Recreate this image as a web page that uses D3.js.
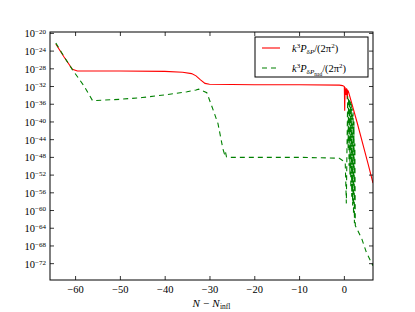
<!DOCTYPE html>
<html><head><meta charset="utf-8">
<script src="https://cdn.jsdelivr.net/npm/d3@7"></script>
<style>
body{margin:0;background:#fff;}
text{font-family:"Liberation Serif","DejaVu Serif",serif;}
</style></head>
<body><svg id="c" width="415" height="312"></svg>
<script>
// ---- data ----
const xTicks = [-60, -50, -40, -30, -20, -10, 0];
const yTickExps = [-20, -24, -28, -32, -36, -40, -44, -48, -52, -56, -60, -64, -68, -72];

// red: k^3 P_dP/(2pi^2)  (N - N_infl, log10 value)
const redN   = [-64.3, -62.5, -60.6, -59.5, -50, -40, -36, -34, -33, -32, -31, -30, -20, -10, -1, -0.3, 0.1, 0.18, 0.28, 0.45, 0.6, 0.75, 0.85, 1.0, 3.0, 5.4, 6.5];
const redLog = [-22.5, -25.4, -28.2, -28.6, -28.6, -28.7, -28.9, -29.2, -29.7, -30.6, -31.4, -31.6, -31.7, -31.7, -31.8, -31.9, -32.1, -37.6, -32.3, -34.0, -32.5, -35.0, -33.0, -33.2, -40.4, -49.6, -53.9];

// green: k^3 P_dPnad/(2pi^2)
const greenN   = [-64.3, -62.5, -60.6, -58.0, -56.1, -50, -45, -40, -35, -33, -32.4, -30.6, -29.5, -28.1, -27.0, -26.7, -26.5, -26.2, -26.0, -20, -10, -1, -0.3, 0.3, 0.55, 0.65, 0.85, 0.95, 1.05, 1.15, 1.25, 1.35, 1.45, 1.55, 1.65, 1.75, 1.85, 1.95, 2.05, 2.15, 2.25, 2.35, 2.45, 2.55, 4.0, 5.0, 6.5];
const greenLog = [-22.3, -25.3, -28.3, -32.0, -35.3, -35.0, -34.6, -34.0, -33.3, -32.9, -32.7, -33.5, -36.5, -40.5, -46.2, -47.2, -46.6, -48.0, -48.1, -48.1, -48.1, -48.3, -48.8, -49.2, -58.5, -49.5, -34.3, -46.0, -34.6, -50.0, -35.0, -52.0, -35.5, -55.0, -36.0, -57.0, -37.0, -59.0, -38.0, -61.0, -40.0, -63.0, -45.0, -63.5, -66.5, -69.5, -72.6];

// ---- layout ----
const m = {l: 50, r: 373, t: 32, b: 280};
const svg = d3.select("#c");

const x = d3.scaleLinear().domain([-65.6, 6.5]).range([m.l, m.r]);
const y = d3.scaleLog().domain([Math.pow(10, -75.8), Math.pow(10, -19.8)]).range([m.b, m.t]);

svg.append("clipPath").attr("id", "clip").append("rect")
  .attr("x", m.l).attr("y", m.t).attr("width", m.r - m.l).attr("height", m.b - m.t);

const line = d3.line().x(d => x(d[0])).y(d => y(Math.pow(10, d[1])));

const redData = redN.map((n, i) => [n, redLog[i]]);
const greenData = greenN.map((n, i) => [n, greenLog[i]]);

const plot = svg.append("g").attr("clip-path", "url(#clip)");
plot.append("path").datum(redData).attr("d", line)
  .attr("fill", "none").attr("stroke", "#ff0000").attr("stroke-width", 1.1);
plot.append("path").datum(greenData).attr("d", line)
  .attr("fill", "none").attr("stroke", "#008000").attr("stroke-width", 1.1)
  .attr("stroke-dasharray", "5,4");

// frame
svg.append("rect").attr("x", m.l).attr("y", m.t).attr("width", m.r - m.l).attr("height", m.b - m.t)
  .attr("fill", "none").attr("stroke", "#000").attr("stroke-width", 1);

const yTickVals = yTickExps.map(e => Math.pow(10, e));

// axes
const ax = svg.append("g").attr("transform", `translate(0,${m.b})`)
  .call(d3.axisBottom(x).tickValues(xTicks).tickSizeInner(-4).tickSizeOuter(0).tickPadding(6)
    .tickFormat(d => d < 0 ? "\u2212" + Math.abs(d) : "" + d));
const axTop = svg.append("g").attr("transform", `translate(0,${m.t})`)
  .call(d3.axisTop(x).tickValues(xTicks).tickSizeInner(-4).tickSizeOuter(0).tickFormat(""));
const ay = svg.append("g").attr("transform", `translate(${m.l},0)`)
  .call(d3.axisLeft(y).tickValues(yTickVals).tickSizeInner(-4).tickSizeOuter(0).tickPadding(4)
    .tickFormat(""));
const ayR = svg.append("g").attr("transform", `translate(${m.r},0)`)
  .call(d3.axisRight(y).tickValues(yTickVals).tickSizeInner(-4).tickSizeOuter(0).tickFormat(""));
[ax, axTop, ay, ayR].forEach(g => {
  g.select(".domain").remove();
  g.selectAll(".tick line").attr("stroke", "#000").attr("stroke-width", 0.8);
});
ax.selectAll(".tick text").attr("font-size", 10.5).attr("fill", "#000")
  .attr("font-family", "Liberation Serif");

// y labels: 10^exp
ay.selectAll(".tick").each(function(d) {
  const e = Math.round(Math.log10(d));
  const t = d3.select(this).append("text").attr("x", -4).attr("dy", "0.38em")
    .attr("text-anchor", "end").attr("fill", "#000").attr("font-size", 10.5);
  t.append("tspan").text("10");
  t.append("tspan").attr("dy", "-0.45em").attr("font-size", 7).text("\u2212" + Math.abs(e));
});

// x axis label
const xl = svg.append("text").attr("x", (m.l + m.r) / 2).attr("y", 306.5)
  .attr("text-anchor", "middle").attr("font-size", 11).attr("fill", "#000");
xl.append("tspan").attr("font-style", "italic").text("N");
xl.append("tspan").attr("dx", 3).text("\u2212");
xl.append("tspan").attr("dx", 3).attr("font-style", "italic").text("N");
xl.append("tspan").attr("dx", 0.5).attr("font-size", 7.5).attr("dy", 2).text("infl");

// legend
const lg = svg.append("g");
lg.append("rect").attr("x", 255).attr("y", 37).attr("width", 113).attr("height", 40)
  .attr("fill", "#fff").attr("stroke", "#000").attr("stroke-width", 1);
const ly = [48, 68];
lg.append("line").attr("x1", 262).attr("x2", 280).attr("y1", ly[0]).attr("y2", ly[0])
  .attr("stroke", "#ff0000").attr("stroke-width", 1.1);
lg.append("line").attr("x1", 262).attr("x2", 280).attr("y1", ly[1]).attr("y2", ly[1])
  .attr("stroke", "#008000").attr("stroke-width", 1.1).attr("stroke-dasharray", "5,4");

function mathLabel(yy, nad) {
  const t = lg.append("text").attr("x", 292).attr("y", yy + 3.5).attr("font-size", 10.5).attr("fill", "#000");
  t.append("tspan").attr("font-style", "italic").text("k");
  t.append("tspan").attr("font-size", 7).attr("dy", -4).text("3");
  t.append("tspan").attr("dy", 4).attr("font-style", "italic").text("P");
  t.append("tspan").attr("font-size", 7).attr("dy", 2.5).text("\u03B4");
  t.append("tspan").attr("font-size", 7).attr("font-style", "italic").text("P");
  if (nad) {
    t.append("tspan").attr("font-size", 5.5).attr("dy", 1.5).text("nad");
    t.append("tspan").attr("dy", -4).text("/(2\u03C0");
  } else {
    t.append("tspan").attr("dy", -2.5).text("/(2\u03C0");
  }
  t.append("tspan").attr("font-size", 7).attr("dy", -4).text("2");
  t.append("tspan").attr("dy", 4).text(")");
}
mathLabel(ly[0], false);
mathLabel(ly[1], true);
</script></body></html>
